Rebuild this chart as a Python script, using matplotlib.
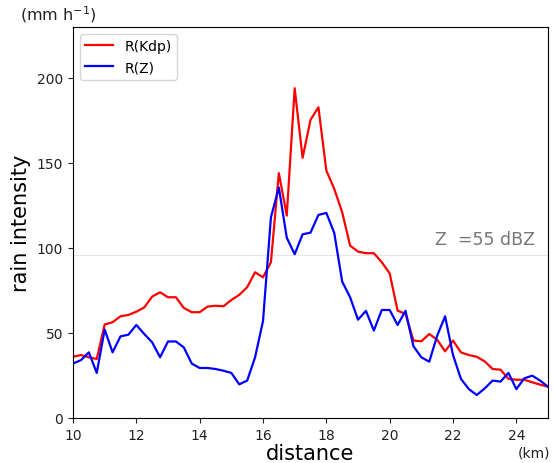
import matplotlib
matplotlib.use("Agg")
import matplotlib.pyplot as plt
import numpy as np

distance = np.arange(10.0, 25.01, 0.25)

r_kdp = [36, 37, 35.7, 34.7, 55, 56.3, 59.8, 60.6, 62.5, 65,
         71.4, 73.9, 71, 71, 64.7, 62.2, 62.2, 65.5, 66, 65.7,
         69.4, 72.4, 76.9, 85.7, 82.7, 91.6, 144, 119, 193.9, 153,
         175.3, 182.7, 145.5, 134.7, 121, 101.4, 97.8, 96.9, 96.9, 91.6,
         85, 63.1, 61.2, 45.5, 45.1, 49.4, 46, 39.2, 45.5, 38.6,
         37, 36, 33.3, 28.8, 28.4, 23, 22.5, 22.5, 21, 19.6,
         18.4]

r_z = [32, 34, 38.6, 26.5, 52, 38.6, 48, 49, 54.7, 49.4,
       44.5, 35.7, 45, 45, 41.5, 32, 29.4, 29.4, 28.8, 27.8,
       26.5, 19.8, 22, 35.7, 57, 118, 135.5, 106, 96.3, 108,
       109, 119.4, 120.6, 108.8, 80.2, 71, 57.8, 63, 51.4, 63.5,
       63.5, 54.7, 63, 42.2, 35.7, 33.1, 48.4, 59.8, 37, 23,
       17, 13.5, 17.4, 22, 21.4, 26.5, 17, 23.3, 24.9, 22,
       18.4]

z_threshold = 96

fig = plt.figure(figsize=(5.53, 4.64), dpi=100)
ax = fig.add_axes([0.132, 0.097, 0.859, 0.843])

ax.axhline(z_threshold, color="#e6e6e6", lw=0.8, zorder=1)
ax.plot(distance, r_kdp, color="red", lw=1.6, label="R(Kdp)")
ax.plot(distance, r_z, color="blue", lw=1.6, label="R(Z)")

ax.set_xlim(10, 25)
ax.set_ylim(0, 230)
ax.set_xticks([10, 12, 14, 16, 18, 20, 22, 24])
ax.set_yticks([0, 50, 100, 150, 200])
ax.tick_params(labelsize=10, colors="#222222")

ax.text(24.6, z_threshold + 4, "Z  =55 dBZ", color="#777777", fontsize=12.5,
        ha="right", va="bottom")

ax.legend(loc="upper left", fontsize=10)

ax.set_xlabel("distance", fontsize=15, labelpad=1)
ax.set_ylabel("rain intensity", fontsize=15, labelpad=4)
fig.text(0.036, 0.955, "(mm h$^{-1}$)", fontsize=11.5, color="#222222")
fig.text(0.995, 0.013, "(km)", fontsize=10, color="#222222", ha="right")

fig.savefig("out.png", dpi=100)
